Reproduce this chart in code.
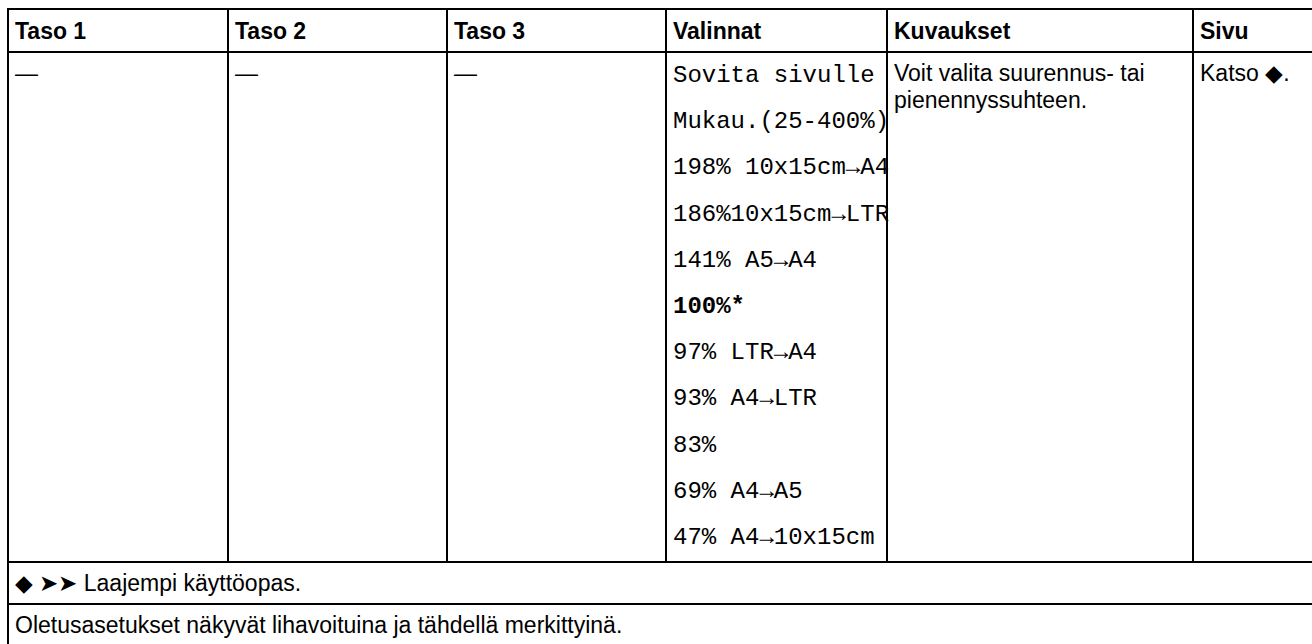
<!DOCTYPE html>
<html>
<head>
<meta charset="utf-8">
<script src="https://cdn.jsdelivr.net/npm/chart.js@4/dist/chart.umd.min.js"></script>
<style>
  html, body { margin: 0; padding: 0; background: #fff; overflow: hidden; }
  body { width: 1312px; height: 644px; position: relative; }
  table {
    position: absolute; left: 7px; top: 8px;
    border-collapse: collapse; table-layout: fixed; width: 1385px;
    font-family: "Liberation Sans", Arial, sans-serif; font-size: 23px; color: #000;
  }
  td, th { border: 2px solid #000; padding: 0 6px; vertical-align: top; text-align: left; }
  th { font-weight: bold; height: 40px; vertical-align: middle; padding-top: 1px; }
  td.sans { padding-top: 7px; line-height: 27px; }
  td.mono { font-family: "Liberation Mono", "Courier New", monospace; font-size: 24px; line-height: 46.2px; padding: 0 6px; white-space: nowrap; }
  td.foot { height: 39px; vertical-align: middle; padding-top: 1px; }
  .b { font-weight: bold; }
</style>
</head>
<body>
<table id="tbl">
  <colgroup id="cols"></colgroup>
  <thead><tr id="head"></tr></thead>
  <tbody id="body"></tbody>
</table>
<script>
// --- Table data ---
const headers = ["Taso 1", "Taso 2", "Taso 3", "Valinnat", "Kuvaukset", "Sivu"];
const levels = ["—", "—", "—"];
const options = [
  "Sovita sivulle", "Mukau.(25-400%)", "198% 10x15cm→A4", "186%10x15cm→LTR",
  "141% A5→A4", "100%*", "97% LTR→A4", "93% A4→LTR", "83%", "69% A4→A5", "47% A4→10x15cm"
];
const defaultOption = "100%*";
const description = "Voit valita suurennus- tai pienennyssuhteen.";
const pageRef = "Katso ◆.";
const footnotes = ["◆ ➤➤ Laajempi käyttöopas.", "Oletusasetukset näkyvät lihavoituina ja tähdellä merkittyinä."];
const colWidths = [220, 219, 219, 221, 306, 200];

// --- Build ---
document.getElementById("cols").innerHTML = colWidths.map(w => `<col style="width:${w}px">`).join("");
document.getElementById("head").innerHTML = headers.map(h => `<th>${h}</th>`).join("");

const tbody = document.getElementById("body");
const tr = document.createElement("tr");
tr.innerHTML = levels.map(l => `<td class="sans">${l}</td>`).join("") +
  `<td class="mono">${options.map(o => o === defaultOption ? `<span class="b">${o}</span>` : o).join("<br>")}</td>` +
  `<td class="sans">${description}</td>` +
  `<td class="sans">${pageRef}</td>`;
tbody.appendChild(tr);

footnotes.forEach(f => {
  const r = document.createElement("tr");
  r.innerHTML = `<td class="foot" colspan="${headers.length}">${f}</td>`;
  tbody.appendChild(r);
});
</script>
</body>
</html>
